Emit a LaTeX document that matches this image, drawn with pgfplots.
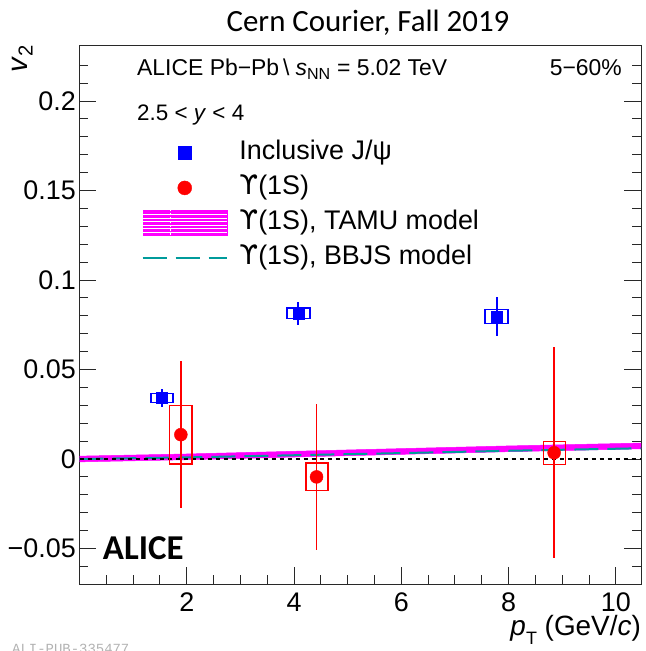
\documentclass[border=0pt]{standalone}
\usepackage{fontspec}
\setmainfont{Liberation Sans}
\newfontfamily\carlito{Carlito}
\newfontfamily\dejavu{DejaVu Sans}
\newfontfamily\mono{Liberation Mono}
\usepackage{pgfplots}
\pgfplotsset{compat=1.18}
\definecolor{bbjs}{RGB}{0,155,155}
\definecolor{tamu}{RGB}{255,0,255}
\definecolor{frame}{RGB}{40,40,40}
\newcommand{\ups}{{\dejavu ϒ}}

\begin{document}
\begin{tikzpicture}
\begin{axis}[
    at={(79.5bp,66.7bp)}, anchor=south west,
    width=561.5bp, height=539.3bp, scale only axis,
    xmin=0, xmax=10.47,
    ymin=-0.07, ymax=0.2313,
    axis line style={frame, line width=0.9bp},
    tick style={frame, line width=0.9bp},
    tick align=inside,
    xtick pos=left, ytick pos=both, yticklabel pos=left,
    major tick length=17bp, minor tick length=9bp,
    xtick={0,2,4,6,8,10}, xticklabels={,2,4,6,8,10},
    minor xtick={0.5,1,1.5,2.5,3,3.5,4.5,5,5.5,6.5,7,7.5,8.5,9,9.5},
    ytick={-0.05,0,0.05,0.1,0.15,0.2},
    yticklabels={−0.05,0,0.05,0.1,0.15,0.2},
    minor ytick={-0.06,-0.04,-0.03,-0.02,-0.01,0.01,0.02,0.03,0.04,0.06,0.07,0.08,0.09,0.11,0.12,0.13,0.14,0.16,0.17,0.18,0.19,0.21,0.22},
    tick label style={font=\fontsize{27}{27}\selectfont},
    xticklabel style={anchor=north, inner sep=0pt, yshift=-8bp},
    yticklabel style={anchor=east, inner sep=0pt, xshift=-3.5bp},
    legend style={at={(0.1113,0.824)}, anchor=north west, draw=none, fill=none,
        inner sep=0pt, outer sep=0pt,
        font=\fontsize{27}{27}\selectfont, row sep=9bp,
        nodes={inner sep=0bp, text height=20bp, text depth=6bp},
        /tikz/every odd column/.append style={column sep=12bp}},
    legend cell align=left,
]
% TAMU band
\addplot[fill=tamu, draw=tamu, line width=0.5bp, forget plot] coordinates {
    (0,0.0016) (2,0.0028) (4,0.0043) (6,0.0058) (8,0.0073) (10.47,0.0089)
    (10.47,0.0057) (8,0.0041) (6,0.0026) (4,0.0011) (2,-0.0004) (0,-0.0016)
} -- cycle;
% BBJS
\addplot[bbjs, line width=2bp, dash pattern=on 24bp off 9bp, forget plot] coordinates {
    (0,0) (2,0.0009) (4,0.0021) (6,0.0033) (8,0.0046) (10.47,0.0060)
};
% zero line
\addplot[black, line width=2bp, dash pattern=on 4bp off 4bp, forget plot] coordinates {(0,0) (10.47,0)};
% J/psi systematic boxes
\addplot[blue, line width=1.5bp, forget plot] coordinates {(1.33,0.0315) (1.74,0.0315) (1.74,0.0365) (1.33,0.0365)} -- cycle;
\addplot[blue, line width=1.5bp, forget plot] coordinates {(3.87,0.0784) (4.30,0.0784) (4.30,0.0844) (3.87,0.0844)} -- cycle;
\addplot[blue, line width=1.5bp, forget plot] coordinates {(7.56,0.0756) (7.99,0.0756) (7.99,0.0834) (7.56,0.0834)} -- cycle;
% Upsilon systematic boxes
\addplot[red, line width=1.5bp, forget plot] coordinates {(1.68,-0.0028) (2.10,-0.0028) (2.10,0.0300) (1.68,0.0300)} -- cycle;
\addplot[red, line width=1.5bp, forget plot] coordinates {(4.22,-0.0177) (4.63,-0.0177) (4.63,-0.0022) (4.22,-0.0022)} -- cycle;
\addplot[red, line width=1.5bp, forget plot] coordinates {(8.65,-0.0030) (9.06,-0.0030) (9.06,0.0097) (8.65,0.0097)} -- cycle;
% J/psi
\addplot[blue, only marks, mark=square*, mark size=5.5bp, forget plot,
    error bars/.cd, y dir=both, y explicit,
    error bar style={line width=1.8bp}, error mark=none]
    coordinates {
    (1.54,0.0340) +- (0,0.0050)
    (4.08,0.0814) +- (0,0.0063)
    (7.78,0.0795) +- (0,0.0109)
};
% Upsilon(1S)
\addplot[red, only marks, mark=*, mark size=6.5bp, forget plot,
    error bars/.cd, y dir=both, y explicit,
    error bar style={line width=1.8bp}, error mark=none]
    coordinates {
    (1.89,0.0136) +- (0,0.041)
    (4.42,-0.0100) +- (0,0.041)
    (8.85,0.0035) +- (0,0.059)
};
\addlegendimage{legend image code/.code={
    \fill[blue] (35.5bp,-6.5bp) rectangle (48.5bp,6.5bp);}}
\addlegendentry{Inclusive J/ψ}
\addlegendimage{legend image code/.code={
    \fill[red] (42bp,0bp) circle[radius=7bp];}}
\addlegendentry{\ups(1S)}
\addlegendimage{legend image code/.code={
    \fill[tamu] (0bp,-12.5bp) rectangle (84bp,12.5bp);
    \foreach \yy in {-9,-5.5,-2,1.5,5,8.5} {\draw[white, line width=0.4bp] (0bp,\yy bp) -- (84bp,\yy bp);}
    \draw[white, line width=0.8bp, dash pattern=on 2bp off 2bp] (28bp,-12.5bp) -- (28bp,12.5bp);}}
\addlegendentry{\ups(1S), TAMU model}
\addlegendimage{legend image code/.code={
    \draw[bbjs, line width=1.5bp, dash pattern=on 24bp off 9bp] (0bp,0bp) -- (84bp,0bp);}}
\addlegendentry{\ups(1S), BBJS model}
\end{axis}
\node[anchor=base, font=\carlito\fontsize{31}{31}\selectfont] at (368bp,619bp) {Cern Courier, Fall 2019};
\node[anchor=base east, rotate=90, inner sep=0pt, font=\fontsize{29}{29}\selectfont] at (27bp,606bp) {\textit{v}\textsubscript{2}};
\node[anchor=base west, inner sep=0pt, font=\fontsize{23}{23}\selectfont] at (137bp,575bp) {ALICE Pb−Pb};
\node[anchor=base west, inner sep=0pt, font=\fontsize{23}{23}\selectfont] at (283bp,575bp) {\textbackslash\hspace{6bp}\textit{s}\textsubscript{NN} = 5.02 TeV};
\node[anchor=base east, inner sep=0pt, font=\fontsize{23}{23}\selectfont] at (622bp,575bp) {5−60\%};
\node[anchor=base west, inner sep=0pt, font=\fontsize{22.5}{22.5}\selectfont] at (137bp,530bp) {2.5 < \textit{y} < 4};
\node[anchor=base west, inner sep=0pt, font=\carlito\bfseries\fontsize{35}{35}\selectfont] at (102.7bp,91.7bp) {ALICE};
\node[anchor=base east, inner sep=0pt, font=\fontsize{28}{28}\selectfont] at (641bp,16bp) {\textit{p}\raisebox{-0.35em}{\fontsize{18}{18}\selectfont T} (GeV/\textit{c})};
\node[anchor=base west, inner sep=0pt, text=black!30, font=\mono\fontsize{14}{14}\selectfont] at (12bp,-2bp) {ALI-PUB-335477};
\pgfresetboundingbox
\path[use as bounding box] (0,0) rectangle (646bp,651bp);
\end{tikzpicture}
\end{document}
